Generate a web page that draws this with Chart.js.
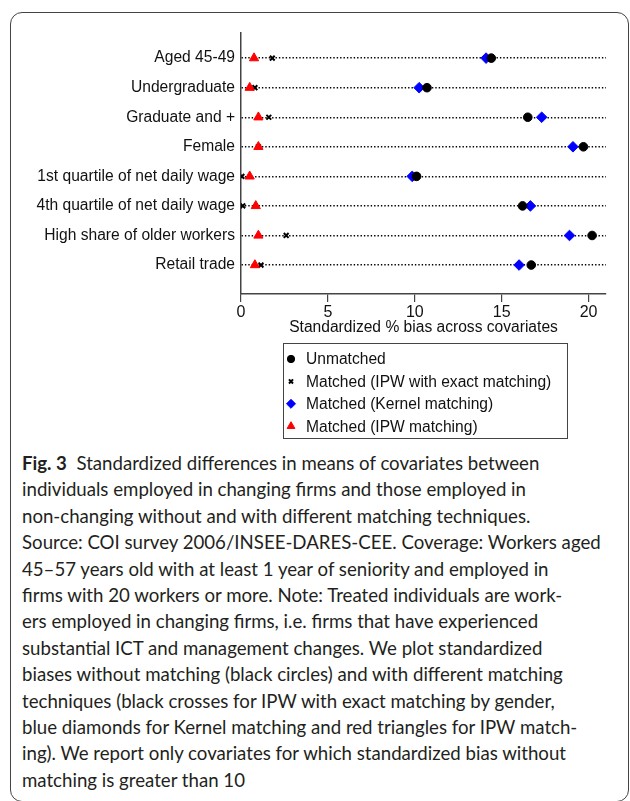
<!DOCTYPE html>
<html>
<head>
<meta charset="utf-8">
<script src="https://cdn.jsdelivr.net/npm/chart.js@4/dist/chart.umd.min.js"></script>
<style>
    html, body { margin: 0; padding: 0; background: #fff; }
    body { width: 630px; height: 801px; position: relative; overflow: hidden; }
    #frame {
        position: absolute; left: 10px; top: 12px; width: 619px; height: 790px;
        border: 1.3px solid #444; border-radius: 12px; box-sizing: border-box;
    }
    #wrap { position: absolute; left: 0; top: 0; width: 630px; height: 445px; }
    #caption {
        position: absolute; left: 22px; top: 450px; width: 600px;
        font-family: Lato, 'Open Sans', sans-serif; font-size: 18.65px; line-height: 26.4px;
        color: #231f20; white-space: nowrap;
    }
    #caption b { font-weight: 700; }
</style>
</head>
<body>
<div id="frame"></div>
<div id="wrap"><canvas id="chartBias" width="630" height="445"></canvas></div>
<div id="caption">
<b>Fig. 3</b>&nbsp; Standardized differences in means of covariates between<br>
individuals employed in changing firms and those employed in<br>
non-changing without and with different matching techniques.<br>
Source: COI survey 2006/INSEE-DARES-CEE. Coverage: Workers aged<br>
45–57 years old with at least 1 year of seniority and employed in<br>
firms with 20 workers or more. Note: Treated individuals are work-<br>
ers employed in changing firms, i.e. firms that have experienced<br>
substantial ICT and management changes. We plot standardized<br>
biases without matching (black circles) and with different matching<br>
techniques (black crosses for IPW with exact matching by gender,<br>
blue diamonds for Kernel matching and red triangles for IPW match-<br>
ing). We report only covariates for which standardized bias without<br>
matching is greater than 10
</div>
<script>
    const covariates = [
        'Aged 45-49', 'Undergraduate', 'Graduate and +', 'Female',
        '1st quartile of net daily wage', '4th quartile of net daily wage',
        'High share of older workers', 'Retail trade'
    ];
    const unmatched = [14.4, 10.7, 16.5, 19.7, 10.1, 16.2, 20.2, 16.7];
    const ipwExact = [1.8, 0.8, 1.6, 1.0, 0.05, 0.1, 2.6, 1.15];
    const kernel = [14.1, 10.25, 17.3, 19.1, 9.85, 16.65, 18.9, 16.0];
    const ipw = [0.75, 0.5, 1.0, 1.0, 0.5, 0.85, 1.0, 0.8];
    const xTicks = [0, 5, 10, 15, 20];

    // order: lower number is drawn on top
    const series = [
        { label: 'Unmatched', values: unmatched, style: 'circle', color: '#000', radius: 4.3, border: 1, order: 0 },
        { label: 'Matched (IPW with exact matching)', values: ipwExact, style: 'crossRot', color: '#000', radius: 3.4, border: 2, order: 3 },
        { label: 'Matched (Kernel matching)', values: kernel, style: 'rectRot', color: '#0000ff', radius: 5.3, border: 1, order: 1 },
        { label: 'Matched (IPW matching)', values: ipw, style: 'triangle', color: '#ff0000', radius: 5.3, border: 1, order: 2 }
    ];

    const FONT = "'Liberation Sans', Arial, sans-serif";
    Chart.defaults.font.family = FONT;
    Chart.defaults.color = '#111';

    // legend box drawn under the plot, one row per series
    const boxLegend = {
        id: 'boxLegend',
        afterDraw(chart) {
            const ctx = chart.ctx;
            ctx.save();
            ctx.strokeStyle = '#444';
            ctx.lineWidth = 1;
            ctx.strokeRect(283.5, 343.5, 284, 95);
            ctx.font = '15.6px ' + FONT;
            ctx.textBaseline = 'middle';
            chart.data.datasets.forEach((ds, i) => {
                const y = 359 + i * 22.4;
                ctx.fillStyle = ds.backgroundColor;
                ctx.strokeStyle = ds.borderColor;
                ctx.lineWidth = ds.borderWidth;
                Chart.helpers.drawPoint(ctx, {
                    pointStyle: ds.pointStyle,
                    radius: ds.pointRadius * 0.85,
                    borderWidth: ds.borderWidth,
                    rotation: 0
                }, 291, y);
                ctx.fillStyle = '#111';
                ctx.fillText(ds.label, 306, y + 1);
            });
            ctx.restore();
        }
    };

    new Chart(document.getElementById('chartBias').getContext('2d'), {
        type: 'scatter',
        data: {
            datasets: series.map(s => ({
                label: s.label,
                data: s.values.map((v, i) => ({ x: v, y: i })),
                pointStyle: s.style,
                pointRadius: s.radius,
                pointHoverRadius: s.radius,
                backgroundColor: s.color,
                borderColor: s.color,
                borderWidth: s.border,
                order: s.order
            }))
        },
        options: {
            responsive: false,
            animation: false,
            events: [],
            layout: { padding: { left: 0, top: 33, right: 24, bottom: 108 } },
            plugins: {
                legend: { display: false },
                tooltip: { enabled: false }
            },
            scales: {
                x: {
                    type: 'linear',
                    min: 0,
                    max: 21,
                    afterBuildTicks: axis => { axis.ticks = xTicks.map(v => ({ value: v })); },
                    afterFit: scale => { scale.height = 43; },
                    grid: { drawOnChartArea: false, drawTicks: true, tickLength: 8, color: '#444', lineWidth: 1.2 },
                    border: { display: true, color: '#444', width: 1.5 },
                    ticks: { font: { size: 16 }, padding: 1, color: '#111', maxRotation: 0 },
                    title: {
                        display: true,
                        text: 'Standardized % bias across covariates',
                        font: { size: 15.6 },
                        color: '#111',
                        padding: { top: 0, bottom: 0 }
                    }
                },
                y: {
                    type: 'linear',
                    reverse: true,
                    min: -0.85,
                    max: 7.98,
                    afterBuildTicks: axis => { axis.ticks = covariates.map((c, i) => ({ value: i })); },
                    afterFit: scale => { scale.width = 241; },
                    grid: { drawOnChartArea: true, drawTicks: false, color: '#000', lineWidth: 1.4 },
                    border: { display: true, color: '#444', width: 1.5, dash: [1.4, 2] },
                    ticks: {
                        font: { size: 15.6 },
                        padding: 6,
                        color: '#111',
                        callback: v => covariates[v]
                    }
                }
            }
        },
        plugins: [boxLegend]
    });
</script>
</body>
</html>
